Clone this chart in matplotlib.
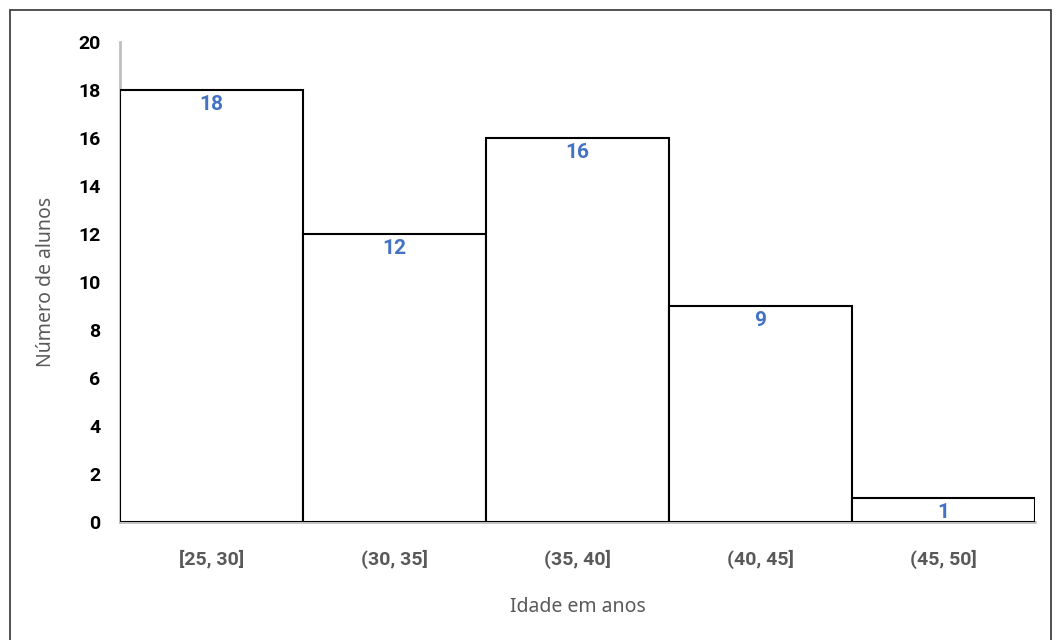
import matplotlib
matplotlib.use("Agg")
import matplotlib.pyplot as plt
import matplotlib.patches as patches

plt.rcParams['font.family'] = ['Noto Sans', 'DejaVu Sans']
BOLD = ['Roboto', 'DejaVu Sans']

# dados
classes = ["[25, 30]", "(30, 35]", "(35, 40]", "(40, 45]", "(45, 50]"]
alunos = [18, 12, 16, 9, 1]
y_ticks = [0, 2, 4, 6, 8, 10, 12, 14, 16, 18, 20]

fig = plt.figure(figsize=(10.56, 6.4), dpi=100)
ax = fig.add_axes([0.1136, 0.184, 0.8665, 0.75])

x = list(range(len(classes)))
bars = ax.bar(x, alunos, width=1.0, align="center", color="white",
              edgecolor="black", linewidth=1.5, zorder=3)

# rótulos dentro das barras
for xi, v in zip(x, alunos):
    ax.text(xi, v - 0.2, str(v), ha="center", va="top", fontsize=15,
            fontweight="bold", family=BOLD, color="#4472C4", zorder=4)

ax.set_xlim(-0.5, len(classes) - 0.5)
ax.set_ylim(0, 20)
ax.set_yticks(y_ticks)
ax.set_yticklabels([str(t) for t in y_ticks], fontsize=14, fontweight="bold",
                   family=BOLD, color="black")
ax.set_xticks(x)
ax.set_xticklabels(classes, fontsize=14, fontweight="bold", family=BOLD, color="#595959")
ax.tick_params(axis="both", length=0)
ax.tick_params(axis="y", pad=14)
ax.tick_params(axis="x", pad=20)

ax.set_xlabel("Idade em anos", fontsize=14, color="#595959", labelpad=20)
ax.set_ylabel("Número de alunos", fontsize=14, color="#595959", labelpad=16)

for s in ["top", "right"]:
    ax.spines[s].set_visible(False)
for s in ["left", "bottom"]:
    ax.spines[s].set_color("#BFBFBF")
    ax.spines[s].set_linewidth(2)

# moldura externa
border = patches.Rectangle((10 / 1056, -0.01), 1041 / 1056, 630 / 640 + 0.01,
                           transform=fig.transFigure, fill=False,
                           edgecolor="#333333", linewidth=1.2)
fig.patches.append(border)

fig.savefig("out.png", dpi=100)
